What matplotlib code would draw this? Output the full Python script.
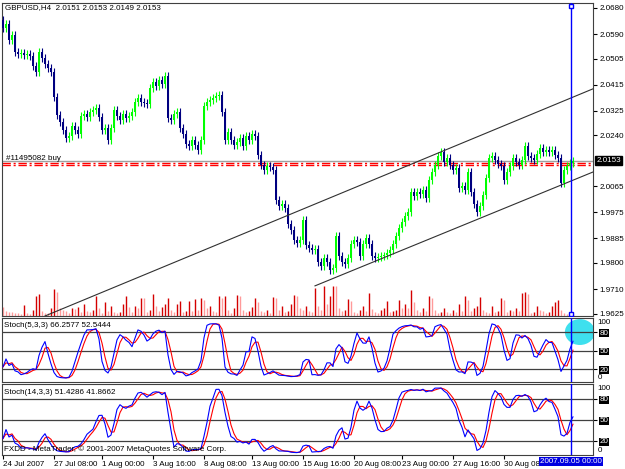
import numpy as np
import pandas as pd
import matplotlib
matplotlib.use("Agg")
import matplotlib.pyplot as plt
from matplotlib.patches import Ellipse

# GBPUSD H4, 4-hour bars
first_open = 2.0640
closes = [
    2.0611, 2.0625, 2.0570, 2.0587, 2.0528, 2.0521, 2.0525, 2.0518, 2.0521, 2.0514,
    2.0480, 2.0459, 2.0528, 2.0507, 2.0487, 2.0473, 2.0459, 2.0373, 2.0311, 2.0287,
    2.0259, 2.0232, 2.0238, 2.0273, 2.0259, 2.0245, 2.0307, 2.0314, 2.0304, 2.0321,
    2.0328, 2.0335, 2.0304, 2.0259, 2.0266, 2.0225, 2.0266, 2.0328, 2.0307, 2.0294,
    2.0314, 2.0300, 2.0307, 2.0321, 2.0356, 2.0369, 2.0356, 2.0352, 2.0349, 2.0404,
    2.0425, 2.0411, 2.0432, 2.0418, 2.0445, 2.0300, 2.0294, 2.0314, 2.0321, 2.0266,
    2.0245, 2.0211, 2.0204, 2.0225, 2.0207, 2.0190, 2.0225, 2.0342, 2.0356, 2.0363,
    2.0369, 2.0376, 2.0380, 2.0321, 2.0225, 2.0252, 2.0225, 2.0207, 2.0218, 2.0232,
    2.0204, 2.0238, 2.0225, 2.0245, 2.0238, 2.0173, 2.0138, 2.0121, 2.0135, 2.0131,
    2.0121, 2.0018, 1.9997, 2.0004, 1.9990, 1.9935, 1.9914, 1.9880, 1.9869, 1.9880,
    1.9949, 1.9862, 1.9852, 1.9845, 1.9848, 1.9804, 1.9790, 1.9818, 1.9804, 1.9776,
    1.9783, 1.9893, 1.9824, 1.9804, 1.9797, 1.9818, 1.9866, 1.9880, 1.9873, 1.9824,
    1.9866, 1.9887, 1.9866, 1.9824, 1.9818, 1.9821, 1.9824, 1.9826, 1.9835, 1.9845,
    1.9866, 1.9893, 1.9921, 1.9942, 1.9962, 1.9976, 2.0045, 2.0031, 2.0045, 2.0038,
    2.0052, 2.0024, 2.0087, 2.0114, 2.0138, 2.0169, 2.0183, 2.0149, 2.0162, 2.0138,
    2.0121, 2.0128, 2.0059, 2.0066, 2.0052, 2.0114, 2.0045, 2.0004, 1.9976, 1.9997,
    2.0035, 2.0093, 2.0162, 2.0169, 2.0156, 2.0142, 2.0135, 2.0087, 2.0114, 2.0135,
    2.0162, 2.0149, 2.0138, 2.0156, 2.0204, 2.0169, 2.0162, 2.0156, 2.0176, 2.0197,
    2.0183, 2.0190, 2.0183, 2.0190, 2.0173, 2.0162, 2.0076, 2.0121, 2.0135, 2.0145,
    2.0153,
]
wick = 0.0013

volumes = [
    900, 500, 400, 400, 300, 300, 200, 1100, 300, 200, 600,
    2000, 2200, 500, 300, 300, 800,
    2700, 2400, 800, 600, 500, 300,
    800, 700, 900, 400, 1200, 500,
    400, 600, 2000, 800, 300, 1400,
    500, 1000, 400, 300, 400, 1200,
    2000, 900, 400, 1000, 800, 1800,
    1800, 400, 600, 2200, 1000, 500,
    900, 1200, 1800, 600, 400, 1200,
    1500, 400, 500, 1500, 500, 1700,
    600, 1800, 1600, 800, 1000, 500,
    400, 2000, 1800, 2000, 600, 300,
    800, 2100, 2000, 600, 400, 500,
    900, 1800, 1400, 500, 400, 600,
    300, 1900, 1800, 600, 1000, 400,
    500, 1200, 2100, 2000, 800, 600,
    1000, 500, 400, 2800, 1000, 600,
    3000, 1200, 2000, 3000, 3000, 800,
    500, 600, 1700, 1500, 400, 300,
    600, 1000, 500, 2300, 700, 400,
    300, 600, 800, 1500, 400, 500,
    600, 1600, 800, 1200, 800, 2600,
    1400, 600, 400, 800, 500, 2000,
    1800, 600, 300, 400, 800, 400,
    300, 600, 400, 1200, 500, 2000,
    1600, 500, 800, 1000, 1900, 600,
    400, 300, 1000, 400, 500, 1800,
    1600, 400, 600, 500, 800, 500,
    2300, 2400, 2200, 300, 400, 1000,
    600, 500, 300, 400, 1000, 1400,
    1600, 600, 300, 200, 200, 200,
]

price_ticks = [2.0680, 2.0590, 2.0505, 2.0415, 2.0325, 2.0240, 2.0065,
               1.9975, 1.9885, 1.9800, 1.9710, 1.9625]
bid = 2.0153
order_lines = [2.0146, 2.0139]
date_bars = [0, 17, 33, 50, 67, 83, 100, 117, 133, 150, 167]
date_labels = ['24 Jul 2007', '27 Jul 08:00', '1 Aug 00:00', '3 Aug 16:00',
               '8 Aug 08:00', '13 Aug 00:00', '15 Aug 16:00', '20 Aug 08:00',
               '23 Aug 00:00', '27 Aug 16:00', '30 Aug 08:00']
vline_bar = 189.3
vline_label = '2007.09.05 00:00'
trend_a = ([14, 196.7], [1.9617, 2.0401])
trend_b = ([104, 196.7], [1.9721, 2.0114])
levels = [20, 50, 80]

plt.rcParams['font.family'] = ['Liberation Sans', 'DejaVu Sans']
FS = 5.8

df = pd.DataFrame({'close': closes})
df['open'] = [first_open] + closes[:-1]
df['high'] = df[['open', 'close']].max(axis=1) + wick
df['low'] = df[['open', 'close']].min(axis=1) - wick
idx = np.arange(len(df))


def stoch(k, slow, d):
    ll = df['low'].rolling(k, min_periods=1).min()
    hh = df['high'].rolling(k, min_periods=1).max()
    num = (df['close'] - ll).rolling(slow, min_periods=1).sum()
    den = (hh - ll).rolling(slow, min_periods=1).sum()
    main = 100 * num / den
    return main, main.rolling(d, min_periods=1).mean()


W, H = 625, 469
fig = plt.figure(figsize=(W / 100, H / 100), dpi=100)


def box(l, t, r, b):
    return [l / W, 1 - b / H, (r - l) / W, (b - t) / H]


ax = fig.add_axes(box(2, 3, 593, 316))
ax2 = fig.add_axes(box(2, 318, 593, 382), sharex=ax)
ax3 = fig.add_axes(box(2, 384, 593, 455), sharex=ax)

# volumes behind the candles (twin made first so the price axis stays on the right)
axv = ax.twinx()
axv.set_zorder(ax.get_zorder() - 1)
ax.patch.set_visible(False)
vol = np.array(volumes)
prev = np.r_[vol[0], vol[:-1]]
vcol = np.where(vol > prev, '#d40000', '#ff9a9a')
axv.vlines(idx, 0, vol, colors=vcol, lw=1.0)
axv.set_ylim(0, 31300)
axv.set_yticks([])
for s in axv.spines.values():
    s.set_visible(False)

for a in (ax, ax2, ax3):
    for s in a.spines.values():
        s.set_color('#404040')
        s.set_linewidth(0.8)
    a.yaxis.tick_right()
    a.tick_params(axis='y', length=3, width=0.8, pad=1.5, labelsize=FS, colors='black')
    a.tick_params(axis='x', length=0, labelbottom=False)

# candles
o = df['open'].values
c = df['close'].values
up = c >= o
ccol = np.where(up, '#00ff00', '#000080')
ax.vlines(idx, df['low'], df['high'], colors=ccol, lw=0.8, zorder=3)
ax.bar(idx, np.maximum(np.abs(c - o), 0.0003), bottom=np.minimum(o, c),
       width=0.75, color=ccol, lw=0, zorder=4)

ax.axhline(bid, color='#a0a0a0', lw=1, zorder=2)
for p in order_lines:
    ax.axhline(p, color='#ff0000', lw=1, ls=(0, (6, 2, 1.5, 2)), zorder=2)
ax.text(1, order_lines[0] + 0.0001, '#11495082 buy', fontsize=FS, va='bottom', ha='left')

ax.plot(*trend_a, color='#303030', lw=0.8, zorder=5)
ax.plot(*trend_b, color='#303030', lw=0.8, zorder=5)

ax.set_xlim(-0.33, 196.67)
ax.set_ylim(1.9617, 2.0697)
ax.set_yticks(price_ticks)
ax.set_yticklabels([f'{t:.4f}' for t in price_ticks])
ax.text(1.006, bid, f'{bid:.4f}', transform=ax.get_yaxis_transform(), fontsize=FS,
        color='white', va='center', ha='left',
        bbox=dict(fc='black', ec='black', pad=0.8))

# stochastics
for a, (k, s, d), ylim in ((ax2, (5, 3, 3), (-1.1, 102.8)), (ax3, (14, 3, 3), (0, 101.4))):
    main, sig = stoch(k, s, d)
    for lv in levels:
        a.axhline(lv, color='#404040', lw=0.9, zorder=1)
    a.plot(idx, sig, color='#ff0000', lw=0.8, zorder=3)
    a.plot(idx, main, color='#0000ff', lw=0.8, zorder=4)
    a.set_ylim(*ylim)
    a.set_yticks(levels)
    a.set_yticklabels([str(v) for v in levels])
    for lbl in a.get_yticklabels():
        lbl.set_color('white')
        lbl.set_bbox(dict(fc='black', ec='none', pad=0.3))
    a.text(1.008, 0.99, '100', transform=a.transAxes, fontsize=FS, va='top', ha='left')
    a.text(1.008, 0.01, '0', transform=a.transAxes, fontsize=FS, va='bottom', ha='left')

ax2.add_patch(Ellipse((192.3, 80), 10, 42, color='#3ee0ee', lw=0, zorder=0.5))

# vertical line
for a in (ax, ax2, ax3):
    a.axvline(vline_bar, color='#0000ff', lw=1, zorder=6)
ax.plot([vline_bar], [2.0687], marker='s', ms=3.5, mfc='white', mec='#0000ff', mew=1, zorder=7)
ax.plot([vline_bar], [1.9624], marker='s', ms=3.5, mfc='white', mec='#0000ff', mew=1, zorder=7)

ax3.set_xticks(date_bars)
ax3.set_xticklabels(date_labels, ha='left')
ax3.tick_params(axis='x', length=3, width=0.8, direction='out', pad=1.5,
                labelbottom=True, labelsize=FS)
ax3.text(vline_bar, -0.045, vline_label, transform=ax3.get_xaxis_transform(),
         fontsize=FS, color='white', ha='center', va='top', zorder=10,
         bbox=dict(fc='#0000e0', ec='none', pad=0.8))

fig.text(5 / W, 1 - 8 / H, 'GBPUSD,H4  2.0151 2.0153 2.0149 2.0153', fontsize=FS, va='center')
fig.text(4 / W, 1 - 325 / H, 'Stoch(5,3,3) 66.2577 52.5444', fontsize=FS, va='center')
fig.text(4 / W, 1 - 392 / H, 'Stoch(14,3,3) 51.4286 41.8662', fontsize=FS, va='center')
fig.text(4 / W, 1 - 449 / H, 'FXDD - MetaTrader, \u00a9 2001-2007 MetaQuotes Software Corp.',
         fontsize=FS, va='center')

fig.savefig('out.png', dpi=100)
